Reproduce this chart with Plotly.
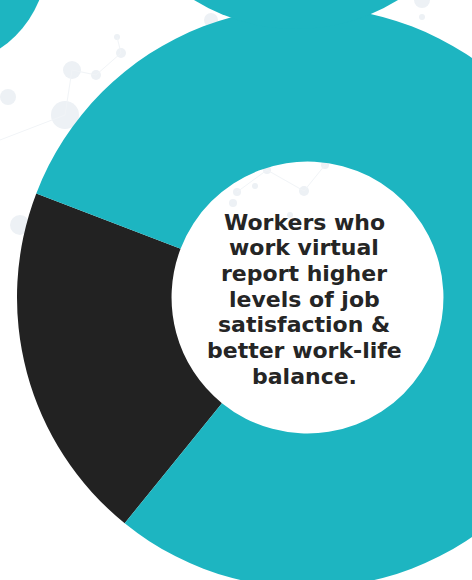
import plotly.graph_objects as go

# ---- data ----
labels = ["Virtual workers", "Other"]
values = [20, 80]
colors = ["#222222", "#1db5c1"]
center_lines = ["Workers who", "work virtual", "report higher", "levels of job",
                "satisfaction &", "better work-life", "balance."]

W, H = 600, 600
def px(x):
    return x / W
def py(y):
    return 1 - y / H

fig = go.Figure()
fig.add_trace(go.Pie(
    labels=labels, values=values, hole=0.468, sort=False,
    direction="clockwise", rotation=219,
    marker=dict(colors=colors, line=dict(width=0)),
    textinfo="none", hoverinfo="label+percent", showlegend=False,
    domain=dict(x=[px(17), px(598)], y=[py(588), py(7)]),
))

shapes = []
# faint network background dots
dots = [(211, 20, 7), (121, 53, 5), (96, 75, 5), (72, 70, 9), (65, 115, 14),
        (117, 37, 3), (422, 0, 8), (422, 17, 3), (267, 170, 4), (237, 192, 4),
        (304, 191, 5), (325, 165, 4), (255, 186, 3), (8, 97, 8), (20, 225, 10),
        (233, 203, 4), (290, 215, 3)]
for (x, y, r) in dots:
    shapes.append(dict(type="circle", xref="paper", yref="paper", layer="below",
                       x0=px(x - r), x1=px(x + r), y0=py(y + r), y1=py(y - r),
                       fillcolor="#edf1f5", line=dict(width=0)))
links = [(96, 75, 121, 53), (121, 53, 117, 37), (96, 75, 72, 70), (72, 70, 65, 115),
         (0, 140, 65, 115), (237, 192, 267, 170), (267, 170, 304, 191), (304, 191, 325, 165)]
for (x0, y0, x1, y1) in links:
    shapes.append(dict(type="line", xref="paper", yref="paper", layer="below",
                       x0=px(x0), y0=py(y0), x1=px(x1), y1=py(y1),
                       line=dict(color="#f1f4f7", width=1)))
# decorative teal circles at the top
for (cx, cy, r) in [(296, -165, 194), (-60, -40, 107)]:
    shapes.append(dict(type="circle", xref="paper", yref="paper", layer="above",
                       x0=px(cx - r), x1=px(cx + r), y0=py(cy + r), y1=py(cy - r),
                       fillcolor="#1db5c1", line=dict(width=0)))

line_y = [221, 246.7, 272.3, 298, 323.7, 349.3, 375]
annotations = []
for t, yy in zip(center_lines, line_y):
    annotations.append(dict(text=t, x=px(304), y=py(yy + 1), xref="paper", yref="paper",
                            showarrow=False, xanchor="center", yanchor="middle", borderpad=0,
                            font=dict(family="DejaVu Sans", size=22, color="#252525", weight=700)))

fig.update_layout(width=W, height=H, margin=dict(l=0, r=0, t=0, b=0),
                  paper_bgcolor="white", plot_bgcolor="white",
                  shapes=shapes, annotations=annotations)

fig.write_html("out.html", post_script="document.body.style.margin='0';document.body.style.overflow='hidden';")
